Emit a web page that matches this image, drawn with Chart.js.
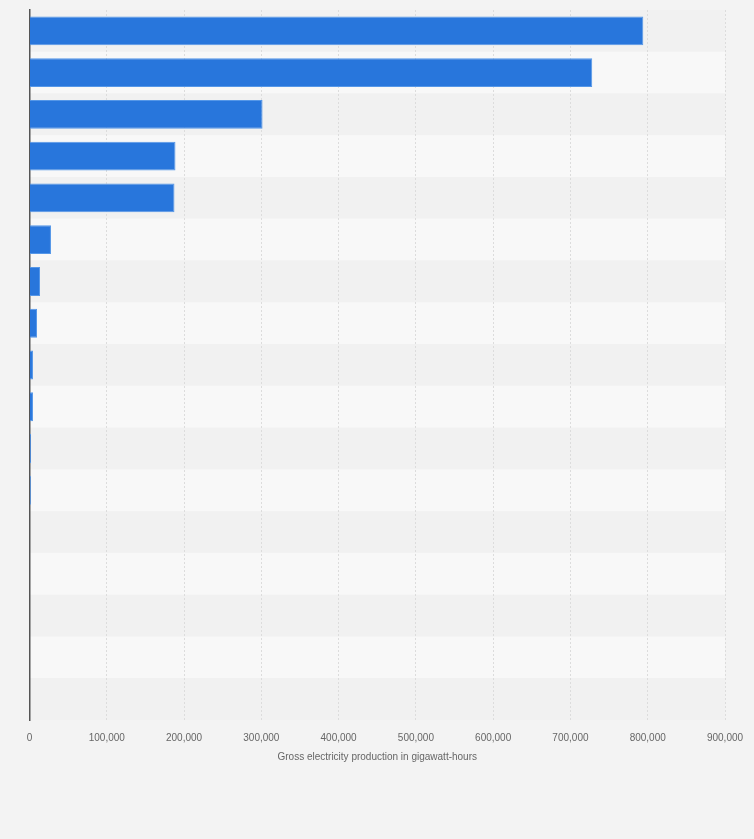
<!DOCTYPE html>
<html>
<head>
<meta charset="utf-8">
<script src="https://cdn.jsdelivr.net/npm/chart.js@4/dist/chart.umd.min.js"></script>
<style>
  body { margin: 0; background: #f3f3f3; }
  #mycanvas { display: block; }
</style>
</head>
<body>
<canvas id="mycanvas" width="754" height="839"></canvas>
<script>
// rows of the chart, top to bottom (no names shown on the picture)
var categories = ['1', '2', '3', '4', '5', '6', '7', '8', '9', '10', '11', '12', '13', '14', '15', '16', '17'];
var production = [794300, 728200, 301600, 188900, 187600, 27800, 13600, 9700, 4500, 4500, 2000, 1800, 0, 0, 0, 0, 0];
var xTicks = [0, 100000, 200000, 300000, 400000, 500000, 600000, 700000, 800000, 900000];

// alternating row bands behind the bars
var stripes = {
	id: 'stripes',
	beforeDraw: function(chart) {
		var ctx = chart.ctx;
		var area = chart.chartArea;
		var y = chart.scales.y;
		var step = (area.bottom - area.top) / categories.length;
		ctx.save();
		for (var i = 0; i < categories.length; i++) {
			var top = y.getPixelForValue(i) - step / 2;
			ctx.fillStyle = (i % 2 === 0) ? '#f1f1f1' : '#f8f8f8';
			ctx.fillRect(area.left, top, area.right - area.left, step);
		}
		ctx.restore();
	}
};

var ctx = document.getElementById('mycanvas');

var barGraph = new Chart(ctx, {
	type: 'bar',
	data: {
		labels: categories,
		datasets: [{
			label: 'Gross electricity production',
			backgroundColor: '#2876dc',
			borderColor: '#5597e8',
			borderWidth: 1,
			barPercentage: 0.69,
			categoryPercentage: 1,
			data: production
		}]
	},
	options: {
		indexAxis: 'y',
		responsive: false,
		animation: false,
		layout: { padding: { left: 21.5, right: 29, top: 10, bottom: 76 } },
		plugins: {
			legend: { display: false },
			tooltip: { enabled: false }
		},
		scales: {
			x: {
				min: 0,
				max: 900000,
				afterBuildTicks: function(scale) {
					scale.ticks = xTicks.map(function(v) { return { value: v }; });
				},
				afterFit: function(scale) {
					scale.paddingLeft = 0;
					scale.paddingRight = 0;
				},
				grid: { color: '#dcdcdc', borderDash: [2, 2], drawTicks: false },
				border: { display: false, dash: [2, 2] },
				ticks: {
					padding: 12,
					color: '#666',
					font: { family: 'Liberation Sans', size: 10 },
					callback: function(v) { return v.toLocaleString('en-US'); }
				},
				title: {
					display: true,
					text: 'Gross electricity production in gigawatt-hours',
					color: '#666',
					font: { family: 'Liberation Sans', size: 10 },
					padding: { top: -5, bottom: 0 }
				}
			},
			y: {
				grid: { display: false },
				border: { color: '#555', width: 1.5 },
				ticks: { display: false }
			}
		}
	},
	plugins: [stripes]
});
</script>
</body>
</html>
